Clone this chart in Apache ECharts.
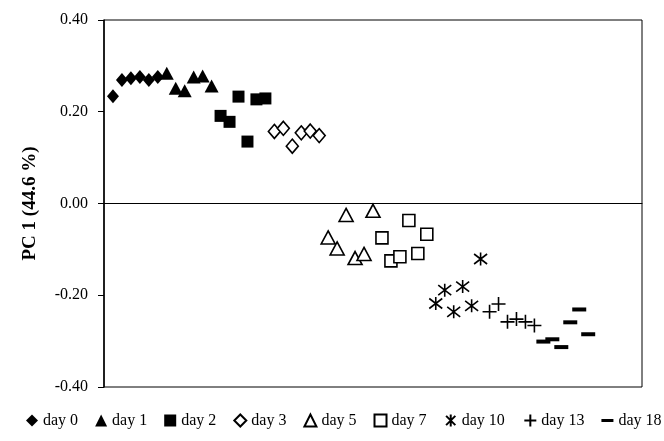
<!DOCTYPE html>
<html>
<head>
<meta charset="utf-8">
<script src="https://cdn.jsdelivr.net/npm/echarts@6/dist/echarts.min.js"></script>
<style>html,body{margin:0;padding:0;background:#fff;}#c{width:664px;height:441px;}</style>
</head>
<body>
<div id="c"></div>
<script>
var dayNames = ['day 0','day 1','day 2','day 3','day 5','day 7','day 10','day 13','day 18'];
var day0 = [0.234, 0.269, 0.273, 0.276, 0.269, 0.276];
var day1 = [0.284, 0.251, 0.246, 0.276, 0.278, 0.256];
var day2 = [0.191, 0.178, 0.233, 0.135, 0.227, 0.229];
var day3 = [0.157, 0.164, 0.125, 0.154, 0.158, 0.148];
var day5 = [-0.074, -0.098, -0.025, -0.119, -0.110, -0.016];
var day7 = [-0.075, -0.125, -0.116, -0.037, -0.109, -0.067];
var day10 = [-0.218, -0.189, -0.236, -0.181, -0.223, -0.121];
var day13 = [-0.236, -0.219, -0.258, -0.252, -0.258, -0.266];
var day18 = [-0.301, -0.296, -0.313, -0.259, -0.231, -0.285];
var yTicks = ['-0.40', '-0.20', '0.00', '0.20', '0.40'];

var groups = [day0, day1, day2, day3, day5, day7, day10, day13, day18];
var asterisk = 'path://M0,0L10,10M10,0L0,10M5,-1.5L5,11.5';
var plus = 'path://M6,0L6,12M0,6L12,6';
var dashIcon = 'path://M0,0L0.01,0M0,12L0.01,12M0,4.5L12,4.5L12,7.5L0,7.5Z';
var styles = [
  {symbol: 'diamond', size: [12, 14], fill: '#000', border: 0},
  {symbol: 'triangle', size: [14, 13], fill: '#000', border: 0},
  {symbol: 'rect', size: 12, fill: '#000', border: 0},
  {symbol: 'diamond', size: [12, 14], fill: '#fff', border: 1.6},
  {symbol: 'triangle', size: [14, 13], fill: '#fff', border: 1.6},
  {symbol: 'rect', size: 12, fill: '#fff', border: 1.6},
  {symbol: asterisk, size: 13, fill: 'none', border: 1.6},
  {symbol: plus, size: 14, fill: 'none', border: 1.6},
  {symbol: 'rect', size: [14, 4], fill: '#000', border: 0}
];
var series = [];
var idx = 1;
groups.forEach(function (vals, g) {
  var data = vals.map(function (v) { return [idx++, v]; });
  var s = styles[g];
  series.push({
    name: dayNames[g], type: 'scatter', data: data,
    symbol: s.symbol, symbolSize: s.size,
    itemStyle: {color: s.fill, borderColor: '#000', borderWidth: s.border, opacity: 1},
    emphasis: {disabled: true}
  });
});
var legendData = dayNames.map(function (n, i) {
  return i === 8 ? {name: n, icon: dashIcon} : {name: n};
});

var chart = echarts.init(document.getElementById('c'), null, {renderer: 'canvas'});
chart.setOption({
  animation: false,
  backgroundColor: '#fff',
  textStyle: {fontFamily: 'Liberation Serif'},
  grid: {left: 104, right: 22, top: 20, bottom: 54, show: true, borderColor: '#000', borderWidth: 1, backgroundColor: 'transparent'},
  xAxis: {
    type: 'value', min: 0, max: 60,
    axisLine: {show: true, onZero: true, lineStyle: {color: '#000', width: 1}},
    axisTick: {show: false}, axisLabel: {show: false}, splitLine: {show: false}
  },
  yAxis: {
    type: 'value', min: -0.4, max: 0.4, interval: 0.2,
    name: 'PC 1 (44.6 %)', nameLocation: 'middle', nameGap: 64,
    nameTextStyle: {fontFamily: 'Liberation Serif', fontWeight: 'bold', fontSize: 19, color: '#000'},
    axisLine: {show: true, lineStyle: {color: '#000', width: 1.5}},
    axisTick: {show: true, inside: false, length: 6, lineStyle: {color: '#000'}},
    axisLabel: {
      margin: 16, fontFamily: 'Liberation Serif', fontSize: 16, color: '#000',
      formatter: function (v) { var i = Math.round((v + 0.4) / 0.2); return yTicks[i]; }
    },
    splitLine: {show: false}
  },
  legend: {
    data: legendData, bottom: 12, left: 26, width: 638, padding: 0, itemGap: 17,
    itemWidth: 12, itemHeight: 12,
    textStyle: {fontFamily: 'Liberation Serif', fontSize: 16, color: '#000'}
  },
  series: series
});
</script>
</body>
</html>
